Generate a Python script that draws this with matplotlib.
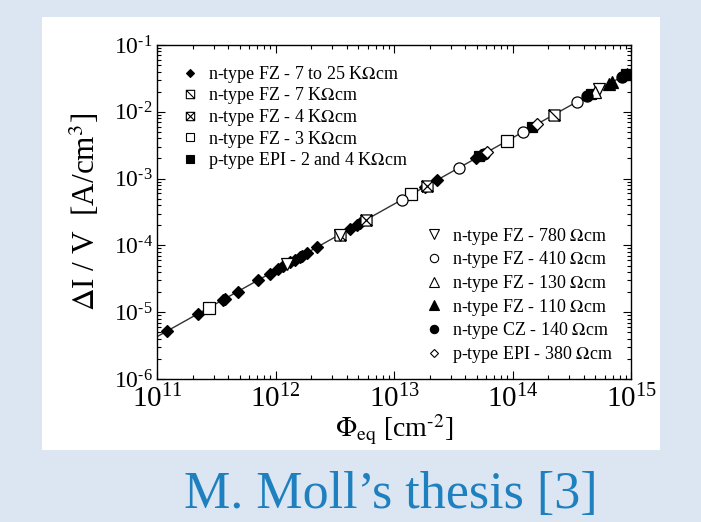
import matplotlib
matplotlib.use('Agg')
import matplotlib.pyplot as plt
from matplotlib.lines import Line2D
from matplotlib.patches import Rectangle
from matplotlib.path import Path
from matplotlib.ticker import FuncFormatter
import numpy as np

# fluence [cm^-2] and current increase per volume [A/cm^3]
fz_7to25k_phi = [1.21e11, 2.21e11, 3.60e11, 3.74e11, 4.81e11, 7.10e11, 8.95e11, 1.045e12,
                 1.15e12, 1.32e12, 1.45e12, 1.60e12, 1.66e12, 1.83e12, 2.22e12, 4.22e12,
                 4.83e12, 5.12e12, 1.81e13, 2.32e13, 4.95e13, 5.46e13]
fz_7to25k_dIV = [5.21e-6, 9.45e-6, 1.53e-5, 1.59e-5, 2.04e-5, 3.00e-5, 3.78e-5, 4.41e-5,
                 4.85e-5, 5.55e-5, 6.11e-5, 6.73e-5, 6.98e-5, 7.70e-5, 9.33e-5, 1.76e-4,
                 2.01e-4, 2.13e-4, 7.46e-4, 9.56e-4, 2.03e-3, 2.23e-3]
fz_7k_phi = [3.48e12, 2.25e14]
fz_7k_dIV = [1.45e-4, 9.09e-3]
fz_4k_phi = [5.86e12, 1.91e13]
fz_4k_dIV = [2.44e-4, 7.86e-4]
fz_3k_phi = [2.74e11, 1.40e13, 9.04e13]
fz_3k_dIV = [1.17e-5, 5.80e-4, 3.68e-3]
epi_2_4k_phi = [5.25e13, 1.47e14, 4.60e14, 9.08e14]
epi_2_4k_dIV = [2.15e-3, 5.94e-3, 1.85e-2, 3.63e-2]
fz_780_phi = [1.245e12, 3.48e12, 5.37e14]
fz_780_dIV = [5.24e-5, 1.45e-4, 2.16e-2]
fz_410_phi = [1.16e13, 3.56e13, 1.23e14, 3.51e14]
fz_410_dIV = [4.79e-4, 1.46e-3, 5.00e-3, 1.41e-2]
fz_130_phi = [5.01e14]
fz_130_dIV = [2.01e-2]
fz_110_phi = [6.53e14, 6.92e14, 9.25e14]
fz_110_dIV = [2.62e-2, 2.77e-2, 3.70e-2]
cz_140_phi = [5.78e13, 4.27e14, 8.39e14]
cz_140_dIV = [2.36e-3, 1.72e-2, 3.36e-2]
epi_380_phi = [6.12e13, 1.61e14]
epi_380_dIV = [2.50e-3, 6.54e-3]

fit_phi = [1e11, 1e15]
fit_dIV = [4.3e-6, 4.0e-2]

plt.rcParams['font.family'] = ['Liberation Serif', 'DejaVu Serif']
plt.rcParams['mathtext.fontset'] = 'stix'

# square with a diagonal / with a cross
sq = [(-1, -1), (1, -1), (1, 1), (-1, 1), (-1, -1)]
slash_sq = Path(sq + [(-1, 1), (1, -1)],
                [Path.MOVETO] + [Path.LINETO] * 4 + [Path.MOVETO, Path.LINETO])
cross_sq = Path(sq + [(-1, 1), (1, -1), (-1, -1), (1, 1)],
                [Path.MOVETO] + [Path.LINETO] * 4 + [Path.MOVETO, Path.LINETO] * 2)

series = [
    (fz_7to25k_phi, fz_7to25k_dIV, 'D', 'black', 6, 'n-type FZ - 7 to 25 K$\\Omega$cm'),
    (fz_7k_phi, fz_7k_dIV, slash_sq, 'white', 8, 'n-type FZ - 7 K$\\Omega$cm'),
    (fz_4k_phi, fz_4k_dIV, cross_sq, 'white', 8, 'n-type FZ - 4 K$\\Omega$cm'),
    (fz_3k_phi, fz_3k_dIV, 's', 'white', 8, 'n-type FZ - 3 K$\\Omega$cm'),
    (epi_2_4k_phi, epi_2_4k_dIV, 's', 'black', 7, 'p-type EPI - 2 and 4 K$\\Omega$cm'),
    (fz_780_phi, fz_780_dIV, 'v', 'white', 9, 'n-type FZ - 780 $\\Omega$cm'),
    (fz_410_phi, fz_410_dIV, 'o', 'white', 8, 'n-type FZ - 410 $\\Omega$cm'),
    (fz_130_phi, fz_130_dIV, '^', 'white', 9, 'n-type FZ - 130 $\\Omega$cm'),
    (fz_110_phi, fz_110_dIV, '^', 'black', 9, 'n-type FZ - 110 $\\Omega$cm'),
    (cz_140_phi, cz_140_dIV, 'o', 'black', 8, 'n-type CZ - 140 $\\Omega$cm'),
    (epi_380_phi, epi_380_dIV, 'D', 'white', 6, 'p-type EPI - 380 $\\Omega$cm'),
]

fig = plt.figure(figsize=(7.01, 5.22), dpi=100, facecolor='#dce6f2')
fig.patches.append(Rectangle((42 / 701, 1 - 450 / 522), 618 / 701, 433 / 522,
                             transform=fig.transFigure, facecolor='white',
                             edgecolor='none', zorder=-10))
ax = fig.add_axes([157 / 701, 1 - 379 / 522, 474 / 701, 334 / 522])

ax.plot(fit_phi, fit_dIV, color='#333333', lw=1.0, zorder=2)
handles = []
for phi, dIV, marker, face, size, label in series:
    ax.plot(phi, dIV, ls='none', marker=marker, mfc=face, mec='black', mew=0.9,
            ms=size, zorder=3)
    handles.append(Line2D([], [], ls='none', marker=marker, mfc=face, mec='black',
                          mew=0.8, ms=size * 0.75, label=label))

ax.set_xscale('log')
ax.set_yscale('log')
ax.set_xlim(1e11, 1e15)
ax.set_ylim(1e-6, 1e-1)


def pow10(v, pos):
    e = int(round(np.log10(v)))
    if e < 0:
        return '$\\mathdefault{10^{\\text{-}%d}}$' % (-e)
    return '$\\mathdefault{10^{%d}}$' % e


ax.yaxis.set_major_formatter(FuncFormatter(pow10))
ax.tick_params(which='both', direction='in', top=True, right=True, width=0.8)
ax.tick_params(which='major', length=6)
ax.tick_params(which='minor', length=3)
ax.tick_params(axis='x', labelsize=21, pad=4)
ax.tick_params(axis='y', labelsize=17, pad=3)
for s in ax.spines.values():
    s.set_linewidth(1.0)

ax.set_xlabel('$\\Phi_{\\rm eq}$ [cm$^{\\text{-}2}$]', fontsize=20, labelpad=0)
ax.set_ylabel('$\\Delta$I / V  [A/cm$^3$]', fontsize=22.5, labelpad=8)

leg1 = ax.legend(handles=handles[:5], loc='upper left', bbox_to_anchor=(0.035, 0.965),
                 frameon=False, fontsize=13, handlelength=1.0, handletextpad=0.5,
                 labelspacing=0.03, borderaxespad=0)
ax.add_artist(leg1)
ax.legend(handles=handles[5:], loc='lower right', bbox_to_anchor=(0.977, 0.02),
          frameon=False, fontsize=13, handlelength=1.0, handletextpad=0.5,
          labelspacing=0.15, borderaxespad=0)

fig.text(0.557, 0.026, 'M. Moll\u2019s thesis [3]', color='#1f80c0', fontsize=37.5,
         ha='center', va='baseline')

fig.savefig('out.png', dpi=100, facecolor=fig.get_facecolor())
